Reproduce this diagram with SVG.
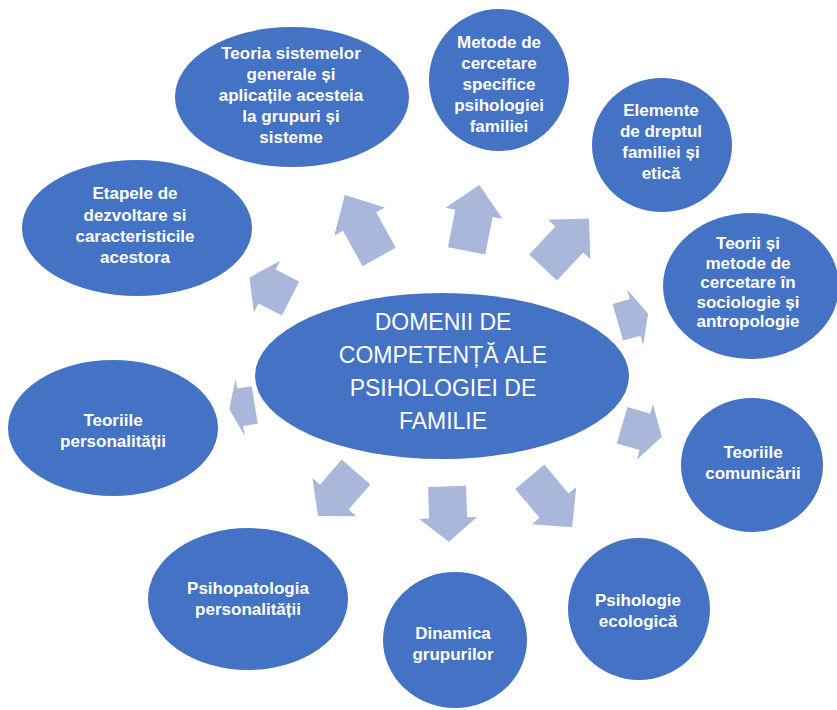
<svg xmlns="http://www.w3.org/2000/svg" xmlns:xlink="http://www.w3.org/1999/xlink" width="837" height="710" viewBox="0 0 837 710">
<style>
.node{fill:#4472C4;}
.t{font-family:"Liberation Sans",Arial,sans-serif;font-weight:bold;font-size:17px;fill:#ffffff;text-anchor:middle;}
.c{font-family:"Liberation Sans",Arial,sans-serif;font-size:23px;fill:#ffffff;text-anchor:middle;}
.arr{fill:#A9B7DB;}
</style>
<defs>
<polygon id="arrow" points="0,-35 29,-5 19,-5 19,35 -19,35 -19,-5 -29,-5"/>
</defs>
<rect width="837" height="710" fill="#ffffff"/>
<g id="connectors" class="arr">
<use xlink:href="#arrow" transform="translate(362,226) rotate(-29) scale(1,1.01)"/>
<use xlink:href="#arrow" transform="translate(473,218) rotate(11) scale(1,0.96)"/>
<use xlink:href="#arrow" transform="translate(566,243) rotate(43) scale(1,0.96)"/>
<use xlink:href="#arrow" transform="translate(633,318) rotate(74) scale(1,0.45)"/>
<use xlink:href="#arrow" transform="translate(270,288) rotate(-63) scale(1,0.66)"/>
<use xlink:href="#arrow" transform="translate(242,407) rotate(-99) scale(1,0.37)"/>
<use xlink:href="#arrow" transform="translate(642,431) rotate(106) scale(1,0.59)"/>
<use xlink:href="#arrow" transform="translate(337,494) rotate(-139) scale(1,0.83)"/>
<use xlink:href="#arrow" transform="translate(448,514) rotate(178) scale(1,0.79)"/>
<use xlink:href="#arrow" transform="translate(551,502) rotate(140) scale(1,0.94)"/>
</g>
<g id="center">
<ellipse class="node" cx="442" cy="376" rx="187" ry="83"/>
<text class="c" x="443" y="330">DOMENII DE</text>
<text class="c" x="443" y="363">COMPETENȚĂ ALE</text>
<text class="c" x="443" y="396">PSIHOLOGIEI DE</text>
<text class="c" x="443" y="429">FAMILIE</text>
</g>
<g id="n1">
<ellipse class="node" cx="292" cy="97" rx="117" ry="70"/>
<text class="t" x="291" y="59">Teoria sistemelor</text>
<text class="t" x="291" y="80">generale și</text>
<text class="t" x="291" y="101">aplicațile acesteia</text>
<text class="t" x="291" y="122">la grupuri și</text>
<text class="t" x="291" y="143">sisteme</text>
</g>
<g id="n2">
<ellipse class="node" cx="499" cy="80" rx="70" ry="71"/>
<text class="t" x="499" y="48">Metode de</text>
<text class="t" x="499" y="69">cercetare</text>
<text class="t" x="499" y="90">specifice</text>
<text class="t" x="499" y="111">psihologiei</text>
<text class="t" x="499" y="132">familiei</text>
</g>
<g id="n3">
<ellipse class="node" cx="662" cy="145" rx="70" ry="67"/>
<text class="t" x="661" y="116">Elemente</text>
<text class="t" x="661" y="137">de dreptul</text>
<text class="t" x="661" y="158">familiei și</text>
<text class="t" x="661" y="179">etică</text>
</g>
<g id="n4">
<ellipse class="node" cx="751" cy="286" rx="88" ry="73"/>
<text class="t" x="748" y="249">Teorii și</text>
<text class="t" x="748" y="268.5">metode de</text>
<text class="t" x="748" y="288">cercetare în</text>
<text class="t" x="748" y="307.5">sociologie și</text>
<text class="t" x="748" y="327">antropologie</text>
</g>
<g id="n5">
<ellipse class="node" cx="137" cy="228" rx="115" ry="68"/>
<text class="t" x="135" y="199">Etapele de</text>
<text class="t" x="135" y="220.5">dezvoltare si</text>
<text class="t" x="135" y="242">caracteristicile</text>
<text class="t" x="135" y="263">acestora</text>
</g>
<g id="n6">
<ellipse class="node" cx="113" cy="428" rx="105" ry="68"/>
<text class="t" x="113" y="426">Teoriile</text>
<text class="t" x="113" y="447">personalității</text>
</g>
<g id="n7">
<ellipse class="node" cx="752" cy="465" rx="71" ry="67"/>
<text class="t" x="753" y="458">Teoriile</text>
<text class="t" x="753" y="479">comunicării</text>
</g>
<g id="n8">
<ellipse class="node" cx="639" cy="609" rx="71" ry="71"/>
<text class="t" x="638" y="606">Psihologie</text>
<text class="t" x="638" y="627">ecologică</text>
</g>
<g id="n9">
<ellipse class="node" cx="455" cy="640" rx="72" ry="68"/>
<text class="t" x="453" y="639">Dinamica</text>
<text class="t" x="453" y="660">grupurilor</text>
</g>
<g id="n10">
<ellipse class="node" cx="248" cy="599" rx="100" ry="71"/>
<text class="t" x="248" y="594">Psihopatologia</text>
<text class="t" x="248" y="615">personalității</text>
</g>
</svg>
